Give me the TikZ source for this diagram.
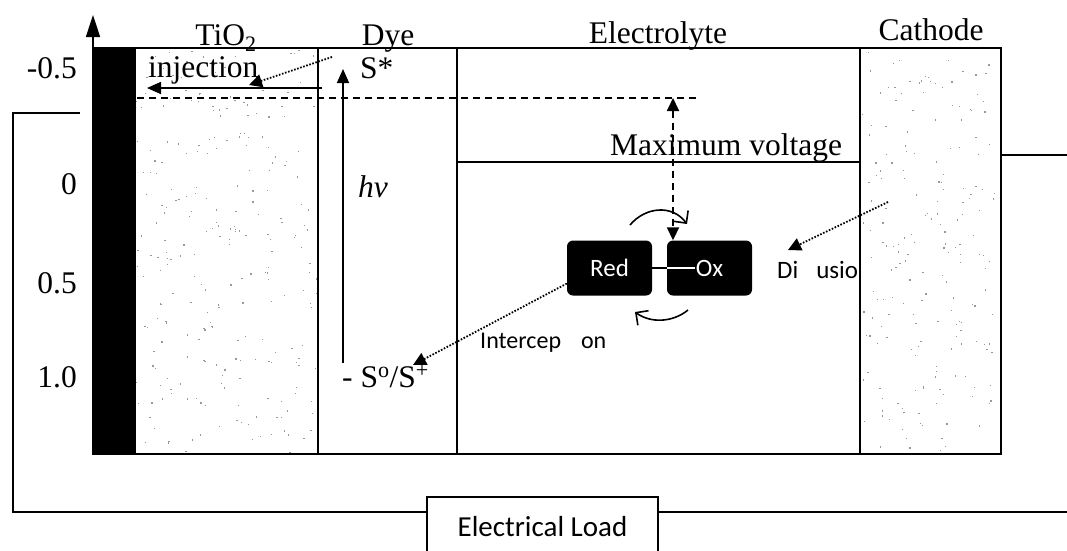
\documentclass[tikz,border=0pt]{standalone}
\usepackage{fontspec}
\setmainfont{Liberation Serif}
\newfontfamily\calibf{Carlito}
\usetikzlibrary{arrows.meta}
\begin{document}
\begin{tikzpicture}[x=1pt,y=-1pt,
  frame/.style={line width=1.6pt},
  wire/.style={line width=1.6pt},
  ser/.style={inner sep=0pt,font=\fontsize{31.5}{36}\selectfont},
  cal/.style={inner sep=0pt,font=\calibf\fontsize{25}{30}\selectfont},
  redox/.style={cal,fill=black,text=white,rounded corners=6pt,minimum width=85pt,minimum height=55pt},
  solidarrow/.style={line width=1.6pt,-{Triangle[length=14pt,width=12pt]}},
  dotarrow/.style={line width=1.8pt,dash pattern=on 1.6pt off 1.6pt,-{Triangle[length=13pt,width=13pt]}},
  dasharrow/.style={line width=1.8pt,dash pattern=on 7pt off 5pt,{Triangle[length=13pt,width=12pt]}-{Triangle[length=13pt,width=12pt]}},
  curvearrow/.style={line width=1.6pt,-{Straight Barb[length=9pt,width=18pt]}}]
\useasboundingbox (0,0) rectangle (1067,550);
\clip (0,0) rectangle (1067,550);
% stipple
\pgfmathsetseed{7}
\foreach \i in {1,...,260}{\fill[black!40] ({136+182*rnd},{48+406*rnd}) rectangle ++(1.3,1.3);}
\foreach \i in {1,...,200}{\fill[black!40] ({860+141*rnd},{48+406*rnd}) rectangle ++(1.3,1.3);}
% black electrode
\fill (92,48) rectangle (136,454);
% frame and columns
\draw[frame] (93,48) rectangle (1001,454);
\draw[frame] (318,48) -- (318,454);
\draw[frame] (457,48) -- (457,454);
\draw[frame] (860,48) -- (860,454);
\draw[frame] (457,162) -- (860,162);
% axis
\draw[line width=1.6pt,-{Triangle[length=22pt,width=14pt]}] (93,48) -- (93,15);
% level line
\draw[line width=1.8pt,dash pattern=on 7pt off 5pt] (137,98) -- (696,98);
% headers
\node[ser,anchor=base] (htio) at (226,45) {TiO\textsubscript{2}};
\node[ser,anchor=base] (hdye) at (388,45) {Dye};
\node[ser,anchor=base] (hel) at (658,43) {Electrolyte};
\node[ser,anchor=base] (hcat) at (931,40) {Cathode};
% axis labels
\node[ser,anchor=base east] (ym05) at (77,78) {-0.5};
\node[ser,anchor=base east] (y0) at (77,194) {0};
\node[ser,anchor=base east] (y05) at (77,293) {0.5};
\node[ser,anchor=base east] (y10) at (77,387) {1.0};
% texts
\node[ser,anchor=base west] (inj) at (148,77) {injection};
\node[ser,anchor=base west] (sstar) at (360,78) {S*};
\node[ser,anchor=base west,font=\fontsize{31.5}{36}\selectfont\itshape] (hv) at (358,197) {hv};
\node[ser,anchor=base west] (sos) at (342,387) {- S\textsuperscript{o}/S\textsuperscript{+}};
\node[ser,anchor=base west] (maxv) at (610,155) {Maximum voltage};
% redox couple
\node[redox] (red) at (609.5,268) {Red};
\node[redox] (ox) at (709.5,268) {Ox};
\draw[line width=1.4pt] (red.east) -- (ox.west);
\draw[line width=1.4pt,white] (ox.west) -- ([xshift=-15pt]ox.center);
% arrows
\coordinate (hvbot) at (343,363);
\coordinate (hvtop) at (343,69);
\draw[solidarrow] (hvbot) -- (hvtop);
\coordinate (injR) at (322,88);
\coordinate (injL) at (147,88);
\draw[solidarrow] (injR) -- (injL);
\coordinate (injs) at (332,57);
\coordinate (injt) at (249,85);
\draw[dotarrow] (injs) -- (injt);
\coordinate (mvtop) at (673,98);
\draw[dasharrow] (mvtop) -- (ox.north -| mvtop);
\draw[curvearrow] (630,225) .. controls (645,207) and (672,204) .. (687,224);
\draw[curvearrow] (688,310) .. controls (672,323) and (650,323) .. (635,312);
\coordinate (difs) at (888,202);
\coordinate (dift) at (788,250);
\draw[dotarrow] (difs) -- (dift);
\node[cal,anchor=base west] (dif) at (777,278) {Di\hspace{18pt}usio};
\coordinate (sostip) at (413,365);
\draw[dotarrow] (red.200) -- (sostip);
\node[cal,anchor=base west,font=\calibf\fontsize{24}{28}\selectfont] (intc) at (480,348) {Intercep\hspace{20pt}on};
% circuit
\node[draw,line width=1.6pt,inner sep=0pt,minimum width=231pt,minimum height=60pt,font=\calibf\fontsize{29}{34}\selectfont] (load) at (542.5,527) {Electrical Load};
\coordinate (lw1) at (80,113);
\coordinate (lw2) at (13,113);
\coordinate (lw3) at (13,512);
\coordinate (rw) at (1067,512);
\draw[wire] (lw1) -- (lw2) -- (lw3) -- (load.west |- lw3);
\draw[wire] (load.east |- rw) -- (rw);
\coordinate (cw1) at (1002,155);
\coordinate (cw2) at (1067,155);
\draw[wire] (cw1) -- (cw2);
\end{tikzpicture}
\end{document}
